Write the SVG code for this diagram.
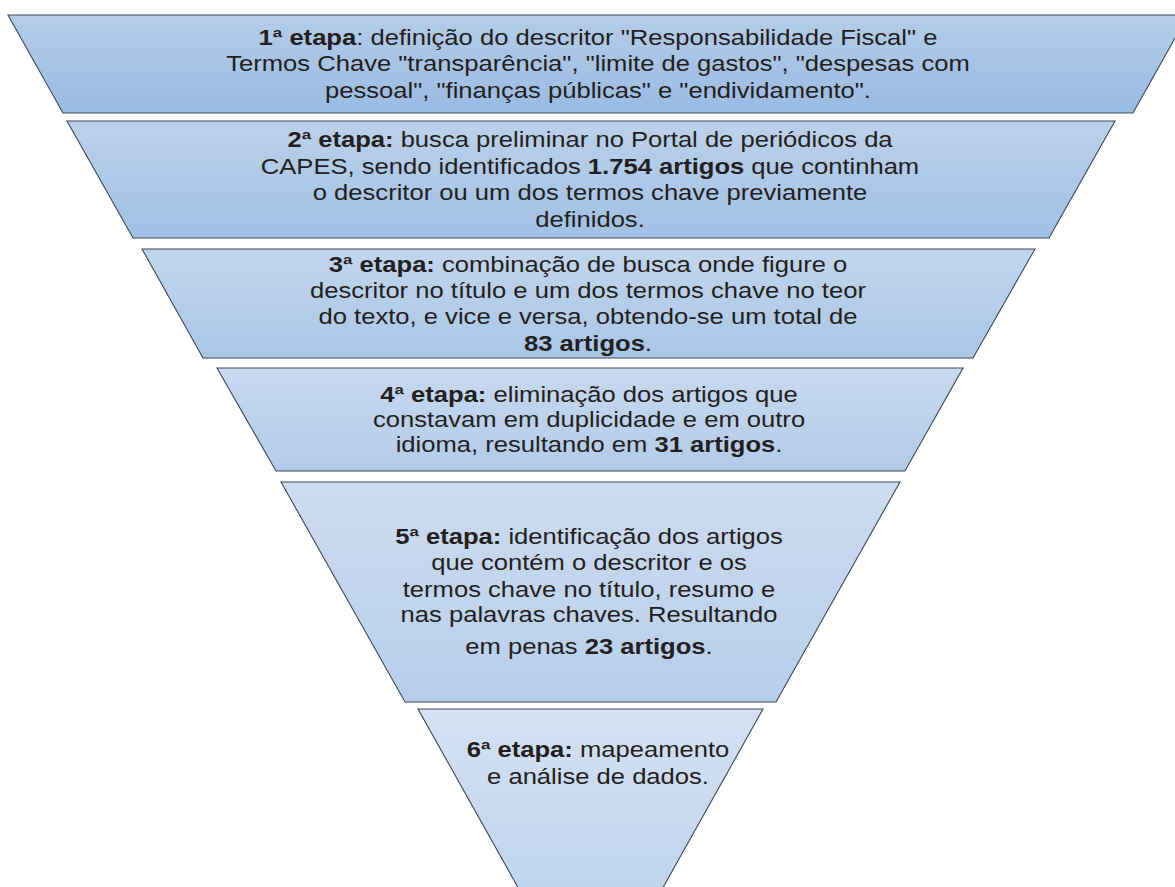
<svg xmlns="http://www.w3.org/2000/svg" width="1175" height="887" viewBox="0 0 1175 887">
<defs>
<linearGradient id="g1" x1="0" y1="0" x2="0" y2="1"><stop offset="0" stop-color="#b5cce9"/><stop offset="1" stop-color="#99bbe2"/></linearGradient>
<linearGradient id="g2" x1="0" y1="0" x2="0" y2="1"><stop offset="0" stop-color="#bcd1eb"/><stop offset="1" stop-color="#a0c0e5"/></linearGradient>
<linearGradient id="g3" x1="0" y1="0" x2="0" y2="1"><stop offset="0" stop-color="#c2d5ed"/><stop offset="1" stop-color="#a9c6e7"/></linearGradient>
<linearGradient id="g4" x1="0" y1="0" x2="0" y2="1"><stop offset="0" stop-color="#c7d9ef"/><stop offset="1" stop-color="#b2cbea"/></linearGradient>
<linearGradient id="g5" x1="0" y1="0" x2="0" y2="1"><stop offset="0" stop-color="#cddcf0"/><stop offset="1" stop-color="#b6ceeb"/></linearGradient>
<linearGradient id="g6" x1="0" y1="0" x2="0" y2="1"><stop offset="0" stop-color="#d4e2f3"/><stop offset="1" stop-color="#bdd3ed"/></linearGradient>
</defs>
<style>
.shape{stroke:#3e4855;stroke-width:1.1;stroke-linejoin:miter}
.t{font-family:"Liberation Sans",Arial,sans-serif;font-size:21.5px;fill:#231f20;text-anchor:middle}
.b{font-weight:bold}
</style>
<rect width="1175" height="887" fill="#ffffff"/>
<g id="connectors"></g>
<g id="etapa1">
<polygon class="shape" fill="url(#g1)" points="8,15 1188,15 1133,113 63,113"/>
<g transform="translate(598,0) scale(1.19,1)">
<text class="t" x="0" y="45"><tspan class="b">1ª etapa</tspan>: definição do descritor "Responsabilidade Fiscal" e</text>
<text class="t" x="0" y="71.5">Termos Chave "transparência", "limite de gastos", "despesas com</text>
<text class="t" x="0" y="98">pessoal", "finanças públicas" e "endividamento".</text>
</g>
</g>
<g id="etapa2">
<polygon class="shape" fill="url(#g2)" points="67,121 1115,121 1049,238 133,238"/>
<g transform="translate(590,0) scale(1.19,1)">
<text class="t" x="0" y="147"><tspan class="b">2ª etapa:</tspan> busca preliminar no Portal de periódicos da</text>
<text class="t" x="0" y="174">CAPES, sendo identificados <tspan class="b">1.754 artigos</tspan> que continham</text>
<text class="t" x="0" y="200">o descritor ou um dos termos chave previamente</text>
<text class="t" x="0" y="227">definidos.</text>
</g>
</g>
<g id="etapa3">
<polygon class="shape" fill="url(#g3)" points="142,249 1035,249 973,358 203,358"/>
<g transform="translate(588,0) scale(1.19,1)">
<text class="t" x="0" y="272"><tspan class="b">3ª etapa:</tspan> combinação de busca onde figure o</text>
<text class="t" x="0" y="298">descritor no título e um dos termos chave no teor</text>
<text class="t" x="0" y="324">do texto, e vice e versa, obtendo-se um total de</text>
<text class="t" x="0" y="351"><tspan class="b">83 artigos</tspan>.</text>
</g>
</g>
<g id="etapa4">
<polygon class="shape" fill="url(#g4)" points="217,368 963,368 905,471 276,471"/>
<g transform="translate(589,0) scale(1.19,1)">
<text class="t" x="0" y="402"><tspan class="b">4ª etapa:</tspan> eliminação dos artigos que</text>
<text class="t" x="0" y="427">constavam em duplicidade e em outro</text>
<text class="t" x="0" y="452">idioma, resultando em <tspan class="b">31 artigos</tspan>.</text>
</g>
</g>
<g id="etapa5">
<polygon class="shape" fill="url(#g5)" points="281,482 900,482 776,702 405,702"/>
<g transform="translate(589,0) scale(1.19,1)">
<text class="t" x="0" y="544"><tspan class="b">5ª etapa:</tspan> identificação dos artigos</text>
<text class="t" x="0" y="570">que contém o descritor e os</text>
<text class="t" x="0" y="597">termos chave no título, resumo e</text>
<text class="t" x="0" y="622">nas palavras chaves. Resultando</text>
<text class="t" x="0" y="654">em penas <tspan class="b">23 artigos</tspan>.</text>
</g>
</g>
<g id="etapa6">
<polygon class="shape" fill="url(#g6)" points="418,709 763,709 656,900 525,900"/>
<g transform="translate(598,0) scale(1.19,1)">
<text class="t" x="0" y="757"><tspan class="b">6ª etapa:</tspan> mapeamento</text>
<text class="t" x="0" y="784">e análise de dados.</text>
</g>
</g>
</svg>
